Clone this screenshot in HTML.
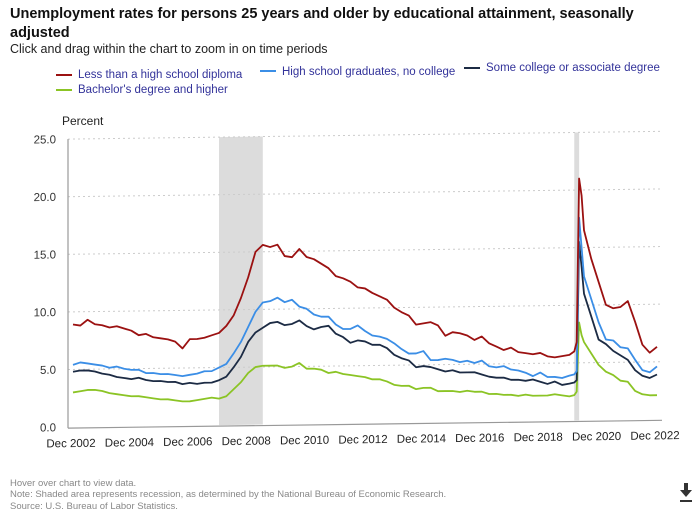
<!DOCTYPE html>
<html><head><meta charset="utf-8">
<style>
body{margin:0;width:692px;height:509px;overflow:hidden;background:#fff;font-family:"Liberation Sans",sans-serif;position:relative}
.t{position:absolute;white-space:nowrap}
</style></head><body>
<div class="t" style="left:10px;top:5px;font-size:14.5px;font-weight:bold;color:#111;line-height:19px;white-space:normal;width:680px">Unemployment rates for persons 25 years and older by educational attainment, seasonally adjusted</div>
<div class="t" style="left:10px;top:42px;font-size:12.5px;color:#222">Click and drag within the chart to zoom in on time periods</div>
<svg width="692" height="509" style="position:absolute;left:0;top:0" id="svg">
<g font-family="Liberation Sans, sans-serif" font-size="11.5" fill="#33339a">
<g><line x1="56" y1="75" x2="72" y2="75" stroke="#9b1111" stroke-width="2"/><text x="78" y="78">Less than a high school diploma</text></g>
<g><line x1="260" y1="71" x2="276" y2="71" stroke="#3b8ee6" stroke-width="2"/><text x="282" y="75">High school graduates, no college</text></g>
<g><line x1="464" y1="68" x2="480" y2="68" stroke="#1c2b44" stroke-width="2"/><text x="486" y="71">Some college or associate degree</text></g>
<g><line x1="56" y1="90" x2="72" y2="90" stroke="#8bc425" stroke-width="2"/><text x="78" y="93">Bachelor's degree and higher</text></g>
</g>
<text x="62" y="125" font-size="12" fill="#222" font-family="Liberation Sans, sans-serif">Percent</text>
<g id="plot" transform="skewY(-0.75) translate(0,1)"></g>
<g fill="#333"><rect x="684" y="483" width="4" height="8"/><polygon points="680,490 692,490 686,497"/><rect x="680" y="500" width="12" height="2"/></g>
</svg>
<div class="t" style="left:10px;top:478px;font-size:9.5px;color:#888">Hover over chart to view data.</div>
<div class="t" style="left:10px;top:489px;font-size:9.5px;color:#888">Note: Shaded area represents recession, as determined by the National Bureau of Economic Research.</div>
<div class="t" style="left:10px;top:501px;font-size:9.5px;color:#888">Source: U.S. Bureau of Labor Statistics.</div>
<script>
// months since Dec 2002 (quarterly, with monthly detail during 2020)
const months=[0,3,6,9,12,15,18,21,24,27,30,33,36,39,42,45,48,51,54,57,60,63,66,69,72,75,78,81,84,87,90,93,96,99,102,105,108,111,114,117,120,123,126,129,132,135,138,141,144,147,150,153,156,159,162,165,168,171,174,177,180,183,186,189,192,195,198,201,204,206,207,208,209,210,213,216,219,222,225,228,231,234,237,240];
const lessHS=[8.9,8.8,9.3,8.9,8.8,8.6,8.7,8.5,8.3,7.9,8.0,7.7,7.6,7.5,7.3,6.7,7.5,7.5,7.6,7.8,8.0,8.6,9.5,11.0,12.8,15.0,15.6,15.4,15.6,14.6,14.5,15.2,14.5,14.3,13.9,13.5,12.8,12.6,12.3,11.8,11.7,11.3,11.0,10.7,10.0,9.6,9.3,8.5,8.6,8.7,8.4,7.5,7.8,7.7,7.5,7.1,7.4,6.8,6.5,6.2,6.4,6.0,5.9,5.8,5.9,5.6,5.5,5.6,5.7,6.0,6.8,21.0,19.5,16.5,14.0,12.0,10.0,9.7,9.8,10.3,8.5,6.5,5.8,6.3,5.5];
const hsGrad=[5.4,5.6,5.5,5.4,5.3,5.1,5.2,5.0,4.9,4.9,4.6,4.6,4.5,4.5,4.4,4.3,4.4,4.5,4.7,4.7,5.0,5.3,6.2,7.2,8.5,9.8,10.6,10.7,11.0,10.6,10.8,10.2,10.0,9.5,9.3,9.3,8.6,8.2,8.2,8.5,8.0,7.6,7.5,7.3,6.9,6.4,6.0,6.0,6.2,5.4,5.4,5.5,5.4,5.2,5.3,5.1,5.3,4.8,4.7,4.8,4.5,4.4,4.2,3.9,4.2,3.8,3.8,3.7,3.9,4.0,4.3,17.6,15.0,12.5,10.5,8.5,7.0,6.9,6.3,6.2,5.2,4.3,4.1,4.6,4.0];
const someCol=[4.8,4.9,4.9,4.8,4.6,4.5,4.3,4.2,4.1,4.2,4.0,3.9,3.9,3.8,3.8,3.6,3.7,3.6,3.7,3.7,3.9,4.2,5.0,5.9,7.2,8.0,8.4,8.8,8.9,8.6,8.7,9.0,8.5,8.2,8.4,8.5,7.8,7.5,7.0,7.2,7.1,6.8,6.8,6.5,5.9,5.6,5.4,4.8,4.9,4.8,4.6,4.4,4.5,4.3,4.3,4.3,4.1,3.9,3.8,3.8,3.6,3.6,3.5,3.6,3.4,3.2,3.4,3.1,3.2,3.3,3.5,15.5,13.3,11.0,9.0,7.0,6.6,6.0,5.6,5.2,4.3,3.8,3.6,3.9,3.3];
const bach=[3.0,3.1,3.2,3.2,3.1,2.9,2.8,2.7,2.6,2.6,2.5,2.4,2.3,2.3,2.2,2.1,2.1,2.2,2.3,2.4,2.3,2.5,3.1,3.7,4.5,5.0,5.1,5.1,5.1,4.9,5.0,5.3,4.8,4.8,4.7,4.4,4.5,4.3,4.2,4.1,4.0,3.8,3.8,3.6,3.3,3.2,3.2,2.9,3.0,3.0,2.7,2.7,2.7,2.6,2.7,2.6,2.6,2.4,2.4,2.3,2.3,2.2,2.3,2.2,2.2,2.2,2.3,2.2,2.1,2.2,2.5,8.5,7.4,6.8,5.8,4.8,4.2,3.9,3.4,3.3,2.5,2.2,2.1,2.1,2.2];
const yTicks=[0,5,10,15,20,25];
const yTickLabels=["0.0","5.0","10.0","15.0","20.0","25.0"];
const xTicks=[0,24,48,72,96,120,144,168,192,216,240];
const xTickLabels=["Dec 2002","Dec 2004","Dec 2006","Dec 2008","Dec 2010","Dec 2012","Dec 2014","Dec 2016","Dec 2018","Dec 2020","Dec 2022"];
const recessions=[[60,78],[206,208]];

const NS="http://www.w3.org/2000/svg";
const X0=73,X1=657,Y0=427,Y1=139;
const xs=m=>X0+m*(X1-X0)/240;
const ys=v=>Y0-v*(Y0-Y1)/25;
const plot=document.getElementById('plot');
function mk(tag,attrs,parent){const e=document.createElementNS(NS,tag);for(const k in attrs)e.setAttribute(k,attrs[k]);(parent||plot).appendChild(e);return e;}
recessions.forEach(r=>{
 const e=mk('rect',{x:xs(r[0]),y:Y1,width:xs(r[1])-xs(r[0]),height:Y0-Y1,fill:'#dcdcdc'});
 
 
});
yTicks.forEach((t,i)=>{
 if(t>0){const g=mk('line',{x1:68,x2:X1+5,y1:ys(t),y2:ys(t),stroke:'#ccc','stroke-dasharray':'2,3'});
 
 }
 const tx=mk('text',{x:56,y:ys(t)+4,'text-anchor':'end','font-size':11.5,fill:'#333','font-family':'Liberation Sans, sans-serif'});
 tx.textContent=yTickLabels[i];
 
 
});
const ax=mk('line',{x1:68,x2:68,y1:Y1,y2:Y0+1,stroke:'#999','stroke-width':1.2});


const bx=mk('line',{x1:68,x2:X1+5,y1:Y0+1,y2:Y0+1,stroke:'#999','stroke-width':1.2});


xTicks.forEach((t,i)=>{
 const tx=mk('text',{x:xs(t)-2,y:Y0+20,'text-anchor':'middle','font-size':11.5,fill:'#222','font-family':'Liberation Sans, sans-serif'});
 tx.textContent=xTickLabels[i];
 
 
});
const series=[[bach,'#8bc425','line-bachelors'],[someCol,'#1c2b44','line-some-college'],[hsGrad,'#3b8ee6','line-hs-graduates'],[lessHS,'#9b1111','line-less-than-hs']];
series.forEach(s=>{
 const d=months.map((m,i)=>(i?'L':'M')+xs(m).toFixed(1)+','+ys(s[0][i]).toFixed(1)).join('');
 const p=mk('path',{d:d,fill:'none',stroke:s[1],'stroke-width':1.8,'stroke-linejoin':'round'});
 
 
});
</script>
</body></html>
